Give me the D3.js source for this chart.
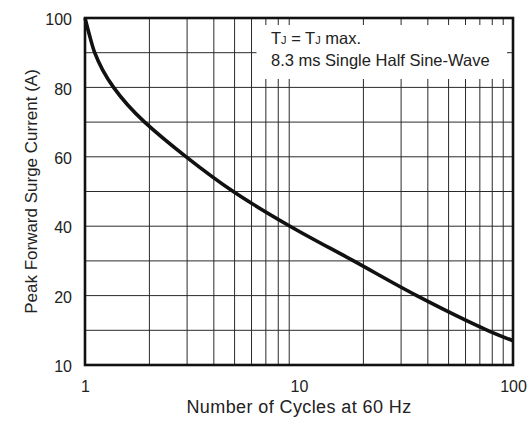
<!DOCTYPE html>
<html>
<head>
<meta charset="utf-8">
<script src="https://cdn.jsdelivr.net/npm/d3@7"></script>
<style>
  body { margin: 0; background: #fff; }
  svg text { font-family: "Liberation Sans", Arial, sans-serif; fill: #222; }
</style>
</head>
<body>
<div id="chart"></div>
<script>
// surge current curve (cycles, amps),
// mostly where the curve crosses the horizontal grid lines
var cycles = [1, 1.05, 1.11, 1.21, 1.36, 1.58, 1.9, 2.97, 4.93, 9.08, 18, 35.5, 76, 100];
var current = [100, 95, 90, 85, 80, 75, 70, 60, 50, 40, 30, 20, 10, 7];

var xTicks = [1, 10, 100];
var xGrid = [2, 3, 4, 5, 6, 7, 8, 9, 20, 30, 40, 50, 60, 70, 80, 90];
var yTicks = [0, 20, 40, 60, 80, 100];
var yTickLabels = ["10", "20", "40", "60", "80", "100"];  // bottom line is printed as "10" on the original
var yGrid = [10, 20, 30, 40, 50, 60, 70, 80, 90];

var W = 527, H = 423;
var m = {left: 85, right: 14, top: 18, bottom: 58};

var svg = d3.select("#chart").append("svg")
    .attr("width", W)
    .attr("height", H);

var x = d3.scaleLog().domain([1, 100]).range([m.left, W - m.right]);
var y = d3.scaleLinear().domain([0, 100]).range([H - m.bottom, m.top]);

// grid
svg.append("g").selectAll("line").data(xGrid).enter().append("line")
    .attr("x1", function (d) { return x(d); })
    .attr("x2", function (d) { return x(d); })
    .attr("y1", y(100)).attr("y2", y(0))
    .attr("stroke", "#2a2a2a").attr("stroke-width", 1);

svg.append("g").selectAll("line").data(yGrid).enter().append("line")
    .attr("x1", x(1)).attr("x2", x(100))
    .attr("y1", function (d) { return y(d); })
    .attr("y2", function (d) { return y(d); })
    .attr("stroke", "#2a2a2a").attr("stroke-width", 1);

// note box covers the grid
svg.append("rect")
    .attr("x", 256.5).attr("y", 25)
    .attr("width", 250.5).attr("height", 54)
    .attr("fill", "#fff");

var note = svg.append("text").attr("x", 271).attr("y", 44).style("font-size", "16.5px");
note.append("tspan").text("T");
note.append("tspan").style("font-size", "11px").text("J");
note.append("tspan").text(" = T");
note.append("tspan").style("font-size", "11px").text("J");
note.append("tspan").text(" max.");
svg.append("text").attr("x", 271).attr("y", 66).style("font-size", "16.5px")
    .text("8.3 ms Single Half Sine-Wave");

// curve
var line = d3.line()
    .x(function (d) { return x(d[0]); })
    .y(function (d) { return y(d[1]); })
    .curve(d3.curveCatmullRom.alpha(0.5));

svg.append("path")
    .datum(d3.zip(cycles, current))
    .attr("d", line)
    .attr("fill", "none")
    .attr("stroke", "#111")
    .attr("stroke-width", 3.6);

// frame
svg.append("rect")
    .attr("x", x(1)).attr("y", y(100))
    .attr("width", x(100) - x(1)).attr("height", y(0) - y(100))
    .attr("fill", "none").attr("stroke", "#111").attr("stroke-width", 2.6);

// axes (labels only, ticks hidden)
var xAxis = svg.append("g")
    .attr("transform", "translate(0," + y(0) + ")")
    .call(d3.axisBottom(x).tickValues(xTicks).tickFormat(d3.format("d")).tickSize(0).tickPadding(16));
xAxis.select(".domain").remove();
xAxis.selectAll("text").style("font-size", "16px").attr("font-family", null);

var yAxis = svg.append("g")
    .attr("transform", "translate(" + x(1) + ",0)")
    .call(d3.axisLeft(y).tickValues(yTicks)
        .tickFormat(function (d, i) { return yTickLabels[i]; })
        .tickSize(0).tickPadding(13));
yAxis.select(".domain").remove();
yAxis.selectAll("text").style("font-size", "16px").attr("font-family", null).attr("dy", "0.42em");

// titles
svg.append("text")
    .attr("x", (x(1) + x(100)) / 2).attr("y", 413)
    .attr("text-anchor", "middle")
    .style("font-size", "18px")
    .style("letter-spacing", "0.4px")
    .text("Number of Cycles at 60 Hz");

svg.append("text")
    .attr("transform", "translate(37," + (y(0) + y(100)) / 2 + ") rotate(-90)")
    .attr("text-anchor", "middle")
    .style("font-size", "17px")
    .text("Peak Forward Surge Current (A)");
</script>
</body>
</html>
